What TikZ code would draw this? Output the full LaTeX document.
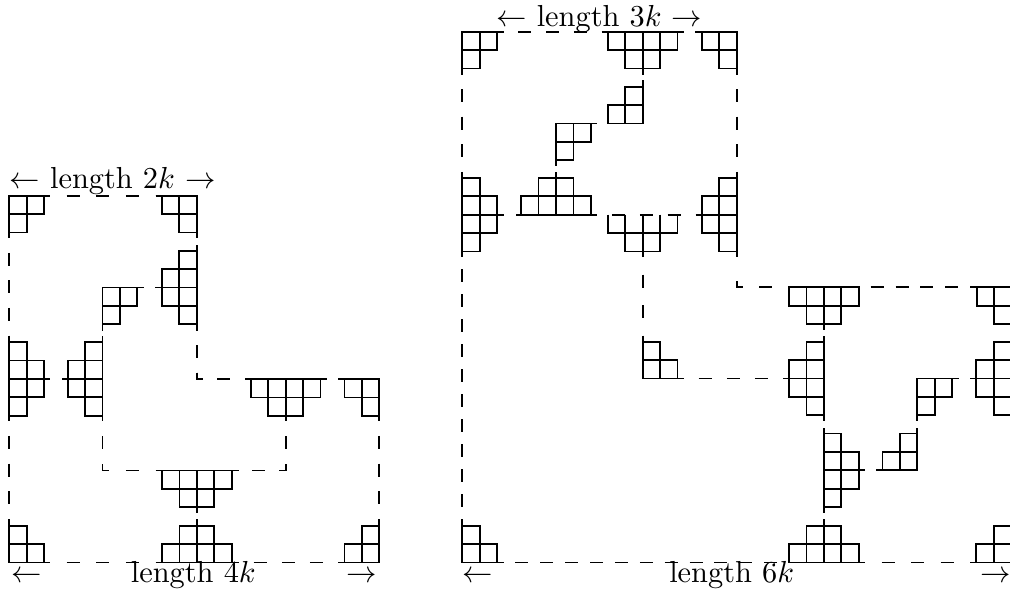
\documentclass[tikz,border=0pt]{standalone}
\tikzset{
  cl/.style={line width=0.6pt, line cap=butt},
  lbl/.style={anchor=base, inner sep=0pt}
}
\newcommand\sqw{17.45}
\newcommand\sqh{18.4}
\newcommand\polyo[3]{\foreach \pc/\pr in {#3}{\draw[cl] ({#1+\pc*\sqw},{#2+\pr*\sqh}) rectangle ++(\sqw,\sqh);}}
\newcommand\stubline[4]{\draw[cl] (#1,#2) -- (#3,#4);}
\newcommand\dashseg[4]{%
 \pgfmathsetmacro\dsL{abs(#3-#1)+abs(#4-#2)}%
 \pgfmathtruncatemacro\dsN{max(1,round((\dsL-20)/24.5))}%
 \pgfmathsetmacro\dsG{(\dsL-\dsN*13)/(\dsN+1)*0.329}%
 \pgfmathsetmacro\dsD{13*0.329}%
 \draw[cl, dash pattern={on \dsD pt off \dsG pt}, dash phase=\dsD pt] (#1,#2) -- (#3,#4);}
\begin{document}
\begin{tikzpicture}[x=0.329pt, y=-0.329pt]
\useasboundingbox (0,0) rectangle (1010,592);
% ================= LEFT FIGURE =================
% A
\polyo{9.3}{195.7}{0/0,1/0,0/1}
\stubline{43.2}{195.7}{50}{195.7}\stubline{9.3}{232.5}{9.3}{238.3}
% B
\polyo{161.7}{195.7}{0/0,1/0,1/1}
\stubline{155.5}{195.7}{161.7}{195.7}\stubline{196.6}{232.5}{196.6}{238.3}
% C
\polyo{161.7}{250.7}{1/0,0/1,1/1,0/2,1/2,1/3}
\stubline{196.6}{250.7}{196.6}{244.5}\stubline{196.6}{324.3}{196.6}{330.5}\stubline{161.7}{287.5}{155.2}{287.5}
% D
\polyo{102.5}{287.5}{0/0,1/0,0/1}
\stubline{137.4}{287.5}{144}{287.5}\stubline{102.5}{324.3}{102.5}{330.5}
% E
\polyo{9.3}{342}{0/0,0/1,1/1,0/2,1/2,0/3}
\stubline{9.3}{342}{9.3}{335.5}\stubline{9.3}{415.6}{9.3}{421}\stubline{43.2}{378.8}{50}{378.8}
% F
\polyo{67.6}{342}{1/0,0/1,1/1,0/2,1/2,1/3}
\stubline{102.5}{342}{102.5}{335.5}\stubline{102.5}{415.6}{102.5}{421}\stubline{67.6}{378.8}{61.5}{378.8}
% corner
\draw[cl] (196.6,372.5) -- (196.6,379) -- (203,379);
% G
\polyo{250.7}{379}{0/0,1/0,2/0,3/0,1/1,2/1}
\stubline{250.7}{379}{244.5}{379}\stubline{320.5}{379}{327}{379}\stubline{285.6}{415.8}{285.6}{421}
% H
\polyo{344.5}{379}{0/0,1/0,1/1}
\stubline{344.5}{379}{338}{379}\stubline{379.4}{415.8}{379.4}{421}
% inner corners
\draw[cl] (102.5,464) -- (102.5,470.5) -- (109,470.5);
\draw[cl] (279,470.5) -- (285.6,470.5) -- (285.6,464);
% I
\polyo{162}{470.5}{0/0,1/0,2/0,3/0,1/1,2/1}
\stubline{162}{470.5}{155.5}{470.5}\stubline{231.8}{470.5}{238.5}{470.5}\stubline{196.9}{507.3}{196.9}{513.3}
% J
\polyo{162}{525.7}{1/0,2/0,0/1,1/1,2/1,3/1}
\stubline{162}{562.5}{155.5}{562.5}\stubline{231.8}{562.5}{238.5}{562.5}\stubline{196.9}{525.7}{196.9}{519.3}
% K
\polyo{9.3}{525.7}{0/0,0/1,1/1}
\stubline{9.3}{525.7}{9.3}{519.3}\stubline{43.2}{562.5}{50}{562.5}
% L
\polyo{344.5}{525.7}{1/0,0/1,1/1}
\stubline{379.4}{525.7}{379.4}{519.3}\stubline{344.5}{562.5}{338}{562.5}
% dashed (left)
\dashseg{50}{195.7}{155.5}{195.7}
\dashseg{9.3}{238.3}{9.3}{335.5}
\dashseg{196.6}{330.5}{196.6}{372.5}
\dashseg{203}{379}{244.5}{379}
\dashseg{9.3}{421}{9.3}{519.3}
\dashseg{102.5}{421}{102.5}{464}
\dashseg{109}{470.5}{155.5}{470.5}
\dashseg{238.5}{470.5}{279}{470.5}
\dashseg{285.6}{421}{285.6}{464}
\dashseg{379.4}{421}{379.4}{519.3}
\dashseg{50}{562.5}{155.5}{562.5}
\dashseg{238.5}{562.5}{338}{562.5}
% labels (left)
\node[lbl] (t1) at (112.5,188.5) {$\leftarrow$ length $2k$ $\rightarrow$};
\node[lbl] (b1l) at (26.5,582.7) {$\leftarrow$};
\node[lbl] (b1) at (193.3,582.7) {length $4k$};
\node[lbl] (b1r) at (361.7,582.7) {$\rightarrow$};
% ================= RIGHT FIGURE =================
% M
\polyo{462.3}{31.7}{0/0,1/0,0/1}
\stubline{497.2}{31.7}{503.5}{31.7}\stubline{462.3}{68.5}{462.3}{74.5}
% N
\polyo{607.7}{31.7}{0/0,1/0,2/0,3/0,1/1,2/1}
\stubline{607.7}{31.7}{601.5}{31.7}\stubline{677.5}{31.7}{684}{31.7}\stubline{642.6}{68.5}{642.6}{74.5}
% O
\polyo{701.7}{31.7}{0/0,1/0,1/1}
\stubline{701.7}{31.7}{695.3}{31.7}\stubline{736.6}{68.5}{736.6}{74.5}
% P
\polyo{607.7}{86.7}{1/0,0/1,1/1}
\stubline{642.6}{86.7}{642.6}{80.3}
% Q
\polyo{556}{123.5}{0/0,1/0,0/1}
\stubline{590.9}{123.5}{596.8}{123.5}\stubline{556}{160.3}{556}{165.5}
% R
\polyo{462.3}{177.9}{0/0,0/1,1/1,0/2,1/2,0/3}
\stubline{462.3}{177.9}{462.3}{171.8}\stubline{462.3}{251.5}{462.3}{257}\stubline{497.2}{214.7}{503.5}{214.7}
% S
\polyo{521.1}{177.9}{1/0,2/0,0/1,1/1,2/1,3/1}
\stubline{521.1}{214.7}{515.5}{214.7}\stubline{590.9}{214.7}{597}{214.7}\stubline{556}{177.9}{556}{171.8}
% T (open top row)
\foreach \pc in {0,1,2,3}{\draw[cl] ({607.7+\pc*\sqw},214.7) -- ++(0,\sqh) -- ++(\sqw,0) -- ++(0,-\sqh);}
\polyo{607.7}{214.7}{1/1,2/1}
\stubline{642.6}{251.5}{642.6}{257}
% U
\polyo{701.7}{177.9}{1/0,0/1,1/1,0/2,1/2,1/3}
\stubline{736.6}{177.9}{736.6}{171.8}\stubline{736.6}{251.5}{736.6}{257}\stubline{701.7}{214.7}{695.5}{214.7}
% corner
\draw[cl] (736.6,281) -- (736.6,287.3) -- (742.5,287.3);
% V
\polyo{789}{287.3}{0/0,1/0,2/0,3/0,1/1,2/1}
\stubline{823.9}{324.1}{823.9}{330.3}
% W
\polyo{976.7}{287.3}{0/0,1/0,1/1}
\stubline{976.7}{287.3}{970}{287.3}
% X
\polyo{642.6}{341.7}{0/0,0/1,1/1}
\stubline{642.6}{341.7}{642.6}{335.5}\stubline{677.5}{378.5}{683.5}{378.5}
% Y
\polyo{789}{341.7}{1/0,0/1,1/1,0/2,1/2,1/3}
\stubline{823.9}{341.7}{823.9}{335.5}\stubline{823.9}{415.3}{823.9}{421.3}\stubline{789}{378.5}{783}{378.5}
% Z
\polyo{917.3}{378.5}{0/0,1/0,0/1}
\stubline{952.2}{378.5}{958.5}{378.5}\stubline{917.3}{415.3}{917.3}{421.3}
% AA
\polyo{976.3}{341.7}{1/0,0/1,1/1,0/2,1/2,1/3}
\stubline{976.3}{378.5}{970}{378.5}
% BB
\polyo{823.9}{433.5}{0/0,0/1,1/1,0/2,1/2,0/3}
\stubline{823.9}{433.5}{823.9}{428}\stubline{823.9}{507.1}{823.9}{513.3}\stubline{858.8}{470.3}{865}{470.3}
% CC
\polyo{882.4}{433.5}{1/0,0/1,1/1}
\stubline{917.3}{433.5}{917.3}{428}\stubline{882.4}{470.3}{876}{470.3}
% DD
\polyo{789}{525.7}{1/0,2/0,0/1,1/1,2/1,3/1}
\stubline{823.9}{525.7}{823.9}{519.3}\stubline{858.8}{562.5}{865}{562.5}
% EE
\polyo{976.3}{525.7}{1/0,0/1,1/1}
\stubline{976.3}{562.5}{970}{562.5}
% FF
\polyo{462.3}{525.7}{0/0,0/1,1/1}
\stubline{462.3}{525.7}{462.3}{519.3}\stubline{497.2}{562.5}{503.5}{562.5}
% dashed (right)
\dashseg{503.5}{31.7}{601.5}{31.7}
\dashseg{462.3}{74.5}{462.3}{171.8}
\dashseg{736.6}{74.5}{736.6}{171.8}
\dashseg{597}{214.7}{695.5}{214.7}
\dashseg{462.3}{257}{462.3}{519.3}
\dashseg{642.6}{257}{642.6}{335.5}
\dashseg{742.5}{287.3}{789}{287.3}
\dashseg{858.8}{287.3}{970}{287.3}
\dashseg{683.5}{378.5}{783}{378.5}
\dashseg{503.5}{562.5}{789}{562.5}
\dashseg{865}{562.5}{970}{562.5}
% labels (right)
\node[lbl] (t2) at (599.2,26) {$\leftarrow$ length $3k$ $\rightarrow$};
\node[lbl] (b2l) at (477.7,582.7) {$\leftarrow$};
\node[lbl] (b2) at (731.7,582.7) {length $6k$};
\node[lbl] (b2r) at (995.2,582.7) {$\rightarrow$};
\end{tikzpicture}
\end{document}
